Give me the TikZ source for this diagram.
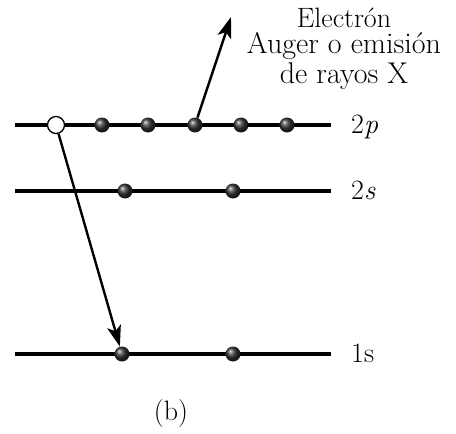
\documentclass[tikz,border=0pt]{standalone}
\usepackage{fontspec}
\usetikzlibrary{arrows.meta, math}

\begin{document}
\begin{tikzpicture}[x=1pt, y=1pt,
  level/.style={line width=3.5pt},
  electron/.style={circle, inner sep=0pt, minimum size=15pt, ball color=black!80},
  hole/.style={circle, draw, line width=1.3pt, fill=white, inner sep=0pt, minimum size=17pt},
  jump/.style={line width=2.4pt, -{Stealth[length=21pt, width=14pt, inset=5pt]}},
  lbl/.style={anchor=base west, inner sep=0pt, font=\fontsize{28}{30}\selectfont},
  txt/.style={anchor=base, inner sep=0pt, text height=18pt, text depth=4pt,
    font=\fontsize{#1}{#1}\selectfont}]
\tikzmath{
\xa=15;
\xb=331;
\yp=-125;
\ys=-191;
\yk=-354;
}
\useasboundingbox (0,0) rectangle (456,-434);

% niveles
\draw[level] (\xa,\yp) -- (\xb,\yp);
\draw[level] (\xa,\ys) -- (\xb,\ys);
\draw[level] (\xa,\yk) -- (\xb,\yk);

\node[lbl] (l2p) at (351,\yp-8) {2\textit{p}};
\node[lbl] (l2s) at (351,\ys-8) {2\textit{s}};
\node[lbl] (l1s) at (351,\yk-8) {1s};

% electrones
\node[hole] (h) at (56,\yp) {};
\foreach \n/\x in {a/102, b/148, c/195, d/241, e/287}
  \node[electron] (p\n) at (\x,\yp) {};
\node[electron] (sa) at (125,\ys) {};
\node[electron] (sb) at (233,\ys) {};
\node[electron] (ka) at (122,\yk) {};
\node[electron] (kb) at (233,\yk) {};

% transiciones
\coordinate (out) at (231,-17);
\draw[jump] (pc) -- (out);
\draw[jump] (h) -- (ka);

\node[txt=28] (t1) at (344,-27) {Electrón};
\node[txt=30] (t2) at (344,-53) {Auger o emisión};
\node[txt=30] (t3) at (344,-83) {de rayos X};

\node[txt=28] (cap) at (171,-420) {(b)};
\end{tikzpicture}
\end{document}
